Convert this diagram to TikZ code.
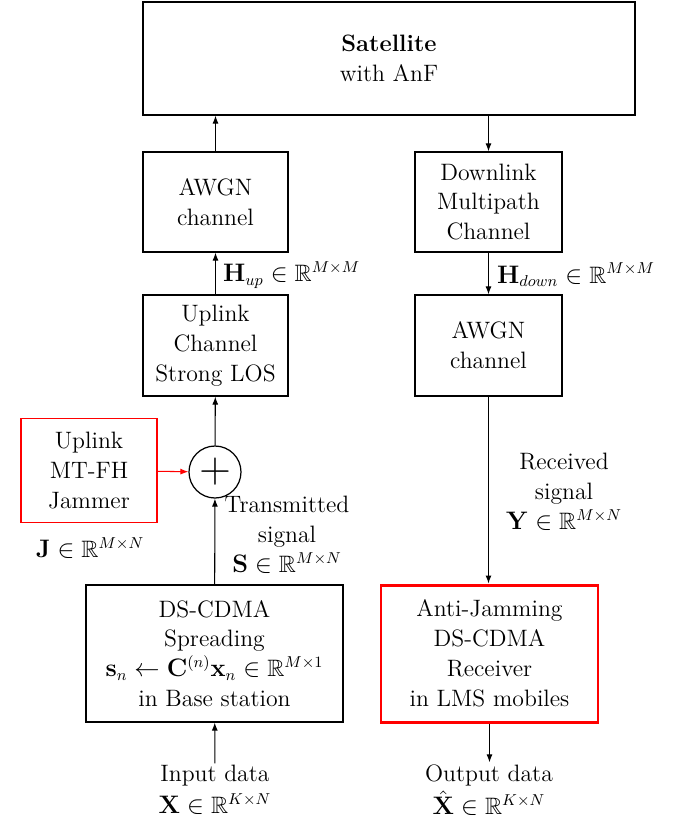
\documentclass[tikz,border=0pt]{standalone}
\usepackage{amsmath}
\usepackage{amssymb}
\usepackage{tikz}
\usetikzlibrary{arrows.meta}
\tikzset{
  blk/.style={draw, line width=0.7pt, align=center, inner sep=0pt},
  redblk/.style={blk, draw=red},
  txt/.style={align=center, inner sep=1pt},
  arr/.style={-{Latex[length=1.6mm,width=1.2mm]}, line width=0.6pt}
}

\begin{document}
\begin{tikzpicture}[x=0.02cm, y=-0.02cm, font=\fontsize{13.5}{17}\selectfont]
\useasboundingbox (0,0) rectangle (684,823);
\node[blk, minimum width=492*0.02cm, minimum height=113*0.02cm] (sat) at (389,58.5) {\textbf{Satellite}\\with AnF};
\node[blk, minimum width=145*0.02cm, minimum height=100*0.02cm] (awgnup) at (215.5,202) {AWGN\\channel};
\node[blk, minimum width=147*0.02cm, minimum height=100*0.02cm] (mpath) at (488.5,202) {Downlink\\Multipath\\Channel};
\node[blk, minimum width=145*0.02cm, minimum height=101*0.02cm] (los) at (215.5,345.5) {Uplink\\Channel\\Strong LOS};
\node[blk, minimum width=147*0.02cm, minimum height=101*0.02cm] (awgndn) at (488.5,345.5) {AWGN\\channel};
\node[redblk, line width=1.1pt, minimum width=136*0.02cm, minimum height=104*0.02cm] (jam) at (89,470.5) {Uplink\\MT-FH\\Jammer};
\node[draw, circle, line width=0.7pt, minimum size=52*0.02cm, inner sep=0pt] (sum) at (215,472) {\fontsize{30}{30}\selectfont$+$};
\node[blk, minimum width=257*0.02cm, minimum height=137*0.02cm] (spread) at (214.5,653.5) {DS-CDMA\\Spreading\\$\mathbf{s}_n\leftarrow\mathbf{C}^{(n)}\mathbf{x}_n\in\mathbb{R}^{M\times 1}$\\in Base station};
\node[redblk, line width=1.7pt, minimum width=217*0.02cm, minimum height=137*0.02cm] (rx) at (489.5,653.5) {Anti-Jamming\\DS-CDMA\\Receiver\\in LMS mobiles};
\node[txt] (input) at (215,790) {Input data\\[1pt]$\mathbf{X}\in\mathbb{R}^{K\times N}$};
\node[txt] (output) at (489,790) {Output data\\[2pt]$\hat{\mathbf{X}}\in\mathbb{R}^{K\times N}$};
\node[txt] (jlab) at (90,548) {$\mathbf{J}\in\mathbb{R}^{M\times N}$};
\node[txt] (slab) at (287,535) {Transmitted\\signal\\$\mathbf{S}\in\mathbb{R}^{M\times N}$};
\node[txt] (ylab) at (564,492) {Received\\signal\\$\mathbf{Y}\in\mathbb{R}^{M\times N}$};
\node[txt, anchor=west] (hup) at (221,275) {$\mathbf{H}_{up}\in\mathbb{R}^{M\times M}$};
\node[txt, anchor=west] (hdown) at (495,275) {$\mathbf{H}_{down}\in\mathbb{R}^{M\times M}$};
\draw[arr] (awgnup) -- (awgnup|-sat.south);
\draw[arr] (mpath|-sat.south) -- (mpath);
\draw[arr] (los) -- (awgnup);
\draw[arr] (mpath) -- (awgndn);
\draw[arr] (sum) -- (los);
\draw[arr, red] (jam) -- (sum);
\draw[arr] (spread) -- (sum);
\draw[arr] (input) -- (spread);
\draw[arr] (awgndn.south) -- (awgndn.south|-rx.north);
\draw[arr] (rx.south) -- (rx.south|-output.north);
\end{tikzpicture}
\end{document}
